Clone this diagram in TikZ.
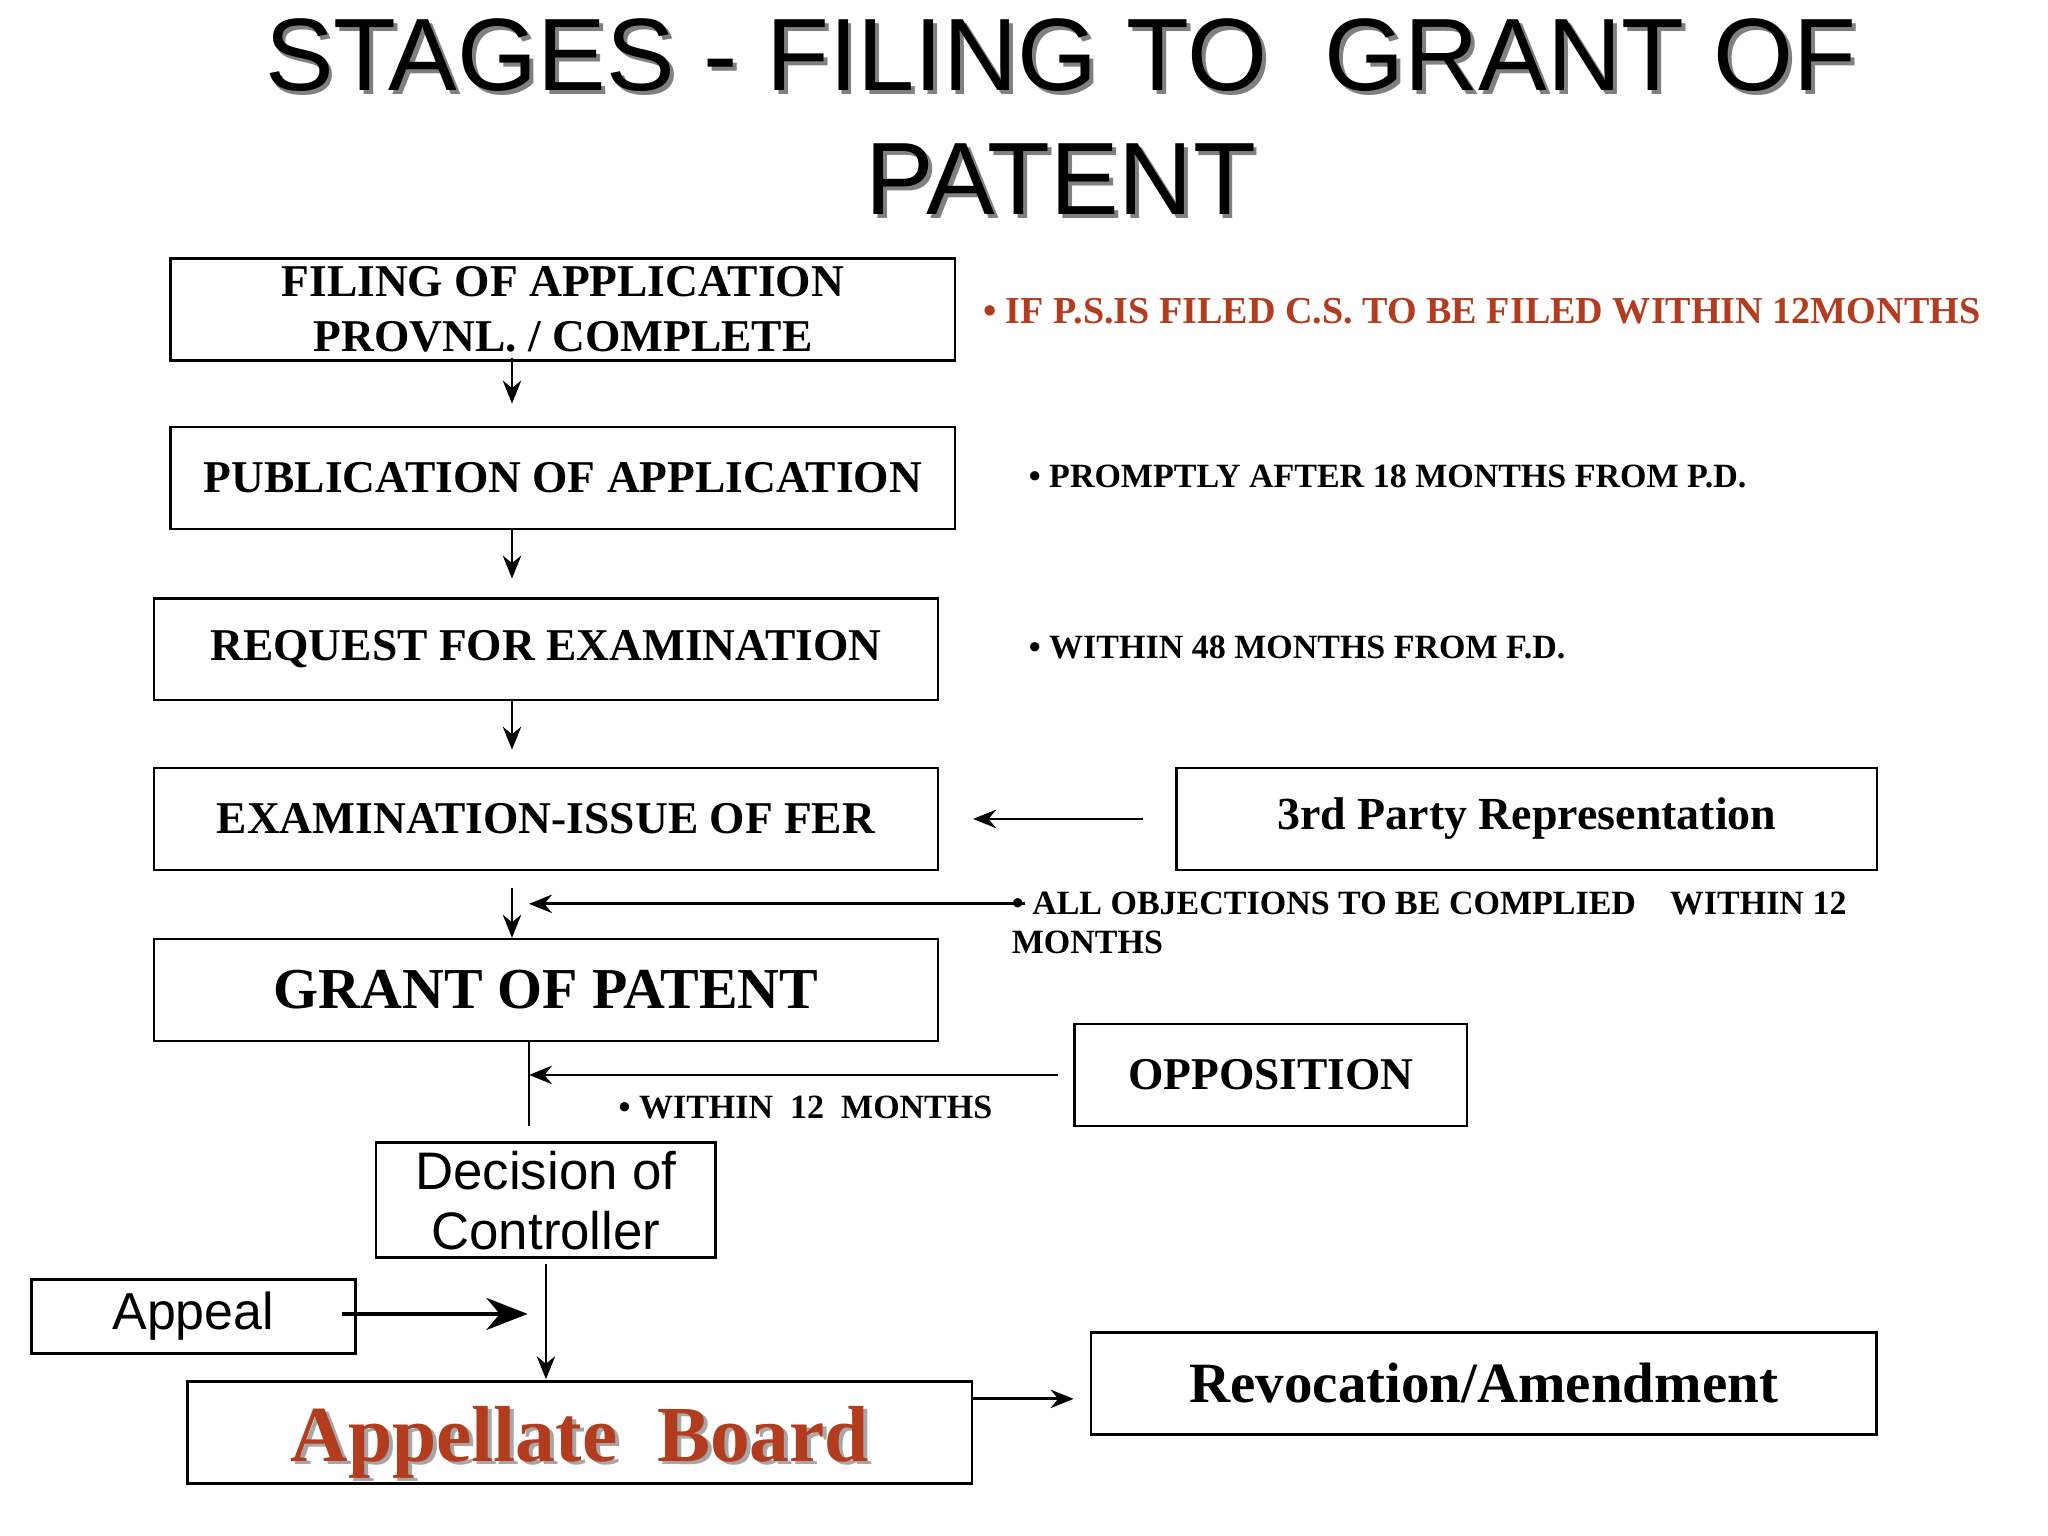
\documentclass[tikz,border=0pt]{standalone}
\usepackage{fontspec}
\setmainfont{Liberation Serif}
\newfontfamily\sansf{Liberation Sans}
\usetikzlibrary{arrows.meta}
\definecolor{redt}{RGB}{180,60,30}
\begin{document}
\begin{tikzpicture}[x=0.01cm,y=-0.01cm,
 box/.style={draw,line width=0.6pt,inner sep=0pt,font=\bfseries},
 side/.style={anchor=west,font=\fontsize{7.4}{8.5}\selectfont\bfseries,inner sep=0pt},
 arr/.style={-{Stealth[length=5pt,width=4pt]},line width=0.6pt},
 tl/.style={font=\sansf\fontsize{22.4}{27}\selectfont},
 bt/.style={font=\bfseries\fontsize{9.9}{11}\selectfont}]
\useasboundingbox (0,0) rectangle (1568,1176);
% title
\foreach \dx/\c in {3/gray,0/black}{
 \node[tl,text=\c] at (812+\dx,42+\dx) {STAGES - FILING TO\ \ GRANT OF};
 \node[tl,text=\c] at (812+\dx,137+\dx) {PATENT};}
\node[box,minimum width=6cm,minimum height=0.78cm,align=center,font=\bfseries\fontsize{9.9}{12}\selectfont] (f) at (431,237) {FILING OF APPLICATION\\PROVNL. / COMPLETE};
\node[box,minimum width=6cm,minimum height=0.78cm,bt] (p) at (431,366) {PUBLICATION OF APPLICATION};
\node[box,minimum width=6cm,minimum height=0.78cm,bt] (r) at (418,497) {REQUEST FOR EXAMINATION};
\node[box,minimum width=6cm,minimum height=0.78cm,bt] (e) at (418,627) {EXAMINATION-ISSUE OF FER};
\node[box,minimum width=5.36cm,minimum height=0.78cm,font=\bfseries\fontsize{10}{11}\selectfont] (t) at (1169,627) {3rd Party Representation};
\node[box,minimum width=6cm,minimum height=0.78cm,font=\bfseries\fontsize{12.6}{14}\selectfont] (g) at (418,758) {GRANT OF PATENT};
\node[box,minimum width=3cm,minimum height=0.78cm,font=\bfseries\fontsize{9.9}{12}\selectfont] (o) at (973,823) {OPPOSITION};
\node[box,minimum width=2.6cm,minimum height=0.88cm,align=center,font=\sansf\fontsize{11.5}{13}\selectfont] (d) at (418,919) {Decision of\\Controller};
\node[box,minimum width=2.48cm,minimum height=0.57cm,font=\sansf\fontsize{11.3}{12}\selectfont] (a) at (148,1008) {Appeal};
\node[box,minimum width=6cm,minimum height=0.78cm] (ab) at (444,1097) {};
\node[font=\bfseries\fontsize{17.3}{20}\selectfont,text=gray!70] at (447,1107) {Appellate\ \ Board};
\node[font=\bfseries\fontsize{17.3}{20}\selectfont,text=redt] at (444,1104) {Appellate\ \ Board};
\node[box,minimum width=6.01cm,minimum height=0.78cm,font=\bfseries\fontsize{12.4}{14}\selectfont] (rv) at (1136,1059) {Revocation/Amendment};
% side texts
\node[side,text=redt,font=\fontsize{8.3}{9}\selectfont\bfseries] at (752,238) {• IF P.S.IS FILED C.S. TO BE FILED WITHIN 12MONTHS};
\node[side] at (787,365) {• PROMPTLY AFTER 18 MONTHS FROM P.D.};
\node[side] at (787,496) {• WITHIN 48 MONTHS FROM F.D.};
\node[side,align=left,anchor=north west] at (774,682) {• ALL OBJECTIONS TO BE COMPLIED\quad WITHIN 12\\MONTHS};
\node[side] at (473,848) {• WITHIN\ \ 12\ \ MONTHS};
% coordinates
\coordinate (a1) at (392,309); \coordinate (a2) at (392,443);
\coordinate (a3) at (392,574); \coordinate (a4a) at (392,680); \coordinate (a4) at (392,718);
\coordinate (t1) at (875,627); \coordinate (t2) at (745,627);
\coordinate (c1) at (785,692); \coordinate (c2) at (405,692);
\coordinate (gb) at (405,797); \coordinate (ge) at (405,862);
\coordinate (o1) at (810,823); \coordinate (o2) at (405,823);
\coordinate (d1) at (418,1056);
\coordinate (p1) at (262,1006); \coordinate (p2) at (404,1006);
\coordinate (r1) at (822,1071);
\draw[arr] (392,274) -- (a1);
\draw[arr] (392,405) -- (a2);
\draw[arr] (392,536) -- (a3);
\draw[arr] (a4a) -- (a4);
\draw[arr] (t1) -- (t2);
\draw[arr] (c1) -- (c2);
\draw[line width=0.6pt] (gb) -- (ge);
\draw[arr] (o1) -- (o2);
\draw[arr] (d.south) ++(0,4) -- (d1);
\draw[-{Stealth[length=9pt,width=7pt]},line width=0.8pt] (p1) -- (p2);
\draw[arr] (ab.east) ++(0,-26) -- (r1);
\end{tikzpicture}
\end{document}
